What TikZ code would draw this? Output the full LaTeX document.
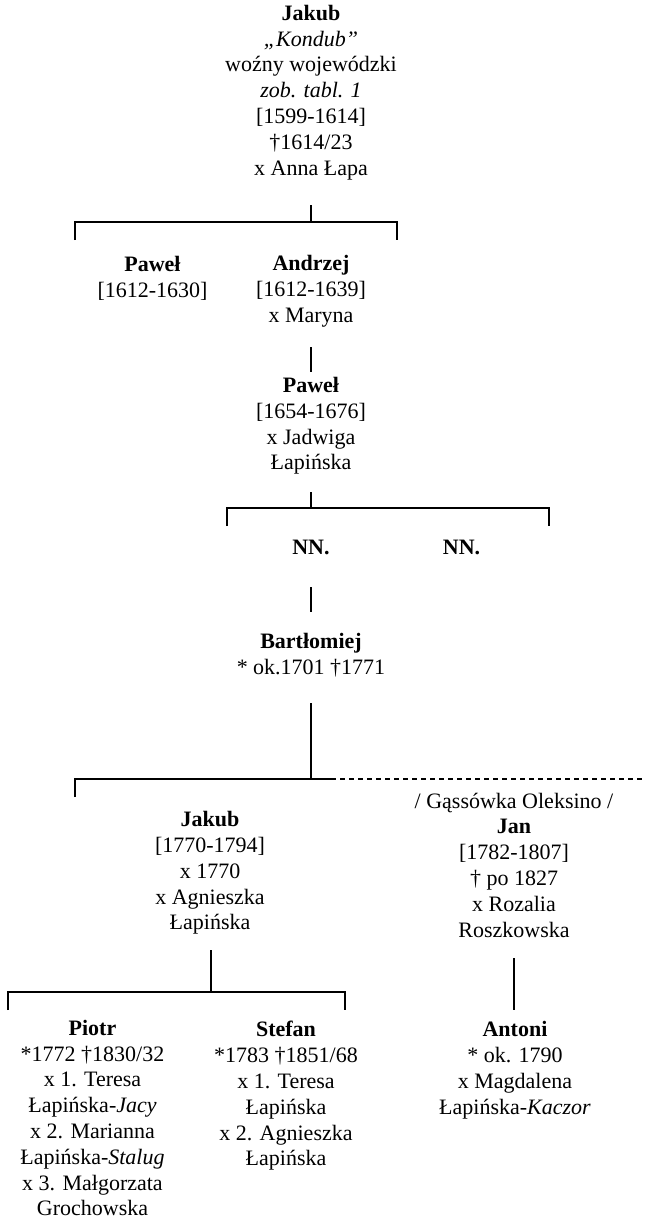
\documentclass[tikz,border=0pt]{standalone}
\usepackage{fontspec}
\setmainfont{Liberation Serif}
\begin{document}
\begin{tikzpicture}[x=0.5pt, y=-0.5pt, font=\fontsize{11}{12.9}\selectfont,
  person/.style={align=center, inner sep=0pt},
  line/.style={line width=0.6pt},
  link/.style={line width=0.6pt, dash pattern=on 2.5pt off 2pt},
]
\useasboundingbox (0,0) rectangle (646,1221);

% ---------------------------------------------------------------- Jakub and sons
\node[person] (jakub1) at (311,92.5) {\textbf{Jakub}\\\textit{„Kondub”}\\woźny wojewódzki\\\textit{zob. tabl. 1}\\{[1599-1614]}\\†1614/23\\x Anna Łapa};
\node[person] (pawel1) at (152.5,278.5) {\textbf{Paweł}\\{[1612-1630]}};
\node[person] (andrzej) at (311,291) {\textbf{Andrzej}\\{[1612-1639]}\\x Maryna};
\coordinate (j1up) at (311,205);
\coordinate (j1bar) at (311,222);
\coordinate (j1l) at (75,222);  \coordinate (j1ld) at (75,240);
\coordinate (j1r) at (397,222); \coordinate (j1rd) at (397,240);
\draw[line] (j1up) -- (j1bar);
\draw[line] (j1ld) -- (j1l) -- (j1r) -- (j1rd);

% ---------------------------------------------------------------- Paweł
\node[person] (pawel2) at (311,426) {\textbf{Paweł}\\{[1654-1676]}\\x Jadwiga\\Łapińska};
\coordinate (a1up) at (311,347);
\coordinate (a1dn) at (311,372);
\draw[line] (a1up) -- (a1dn);

% ---------------------------------------------------------------- NN.
\node[person] (nn1) at (311,547) {\textbf{NN.}};
\node[person] (nn2) at (461.5,547) {\textbf{NN.}};
\coordinate (p2up) at (311,492);
\coordinate (p2bar) at (311,508);
\coordinate (p2l) at (227,508); \coordinate (p2ld) at (227,526);
\coordinate (p2r) at (549,508); \coordinate (p2rd) at (549,526);
\draw[line] (p2up) -- (p2bar);
\draw[line] (p2ld) -- (p2l) -- (p2r) -- (p2rd);

% ---------------------------------------------------------------- Bartłomiej
\node[person] (bart) at (311,655) {\textbf{Bartłomiej}\\* ok.1701 †1771};
\coordinate (n1up) at (311,587);
\coordinate (n1dn) at (311,612);
\draw[line] (n1up) -- (n1dn);

% ---------------------------------------------------------------- Jakub, Jan
\node[person] (jakub2) at (210,873) {\textbf{Jakub}\\{[1770-1794]}\\x 1770\\x Agnieszka\\Łapińska};
\node[person] (jan) at (514,865) {/ Gąssówka Oleksino /\\\textbf{Jan}\\{[1782-1807]}\\† po 1827\\x Rozalia\\Roszkowska};
\coordinate (bup) at (311,703);
\coordinate (bbar) at (311,779);
\coordinate (bl) at (75,779); \coordinate (bld) at (75,797);
\coordinate (bmid) at (331,779);
\coordinate (bend) at (646,779);
\draw[line] (bup) -- (bbar);
\draw[line] (bld) -- (bl) -- (bmid);
\draw[link] (bmid) -- (bend);

% ---------------------------------------------------------------- grandsons
\node[person] (piotr) at (92.5,1118) {\textbf{Piotr}\\*1772 †1830/32\\x 1. Teresa\\Łapińska-\textit{Jacy}\\x 2. Marianna\\Łapińska-\textit{Stalug}\\x 3. Małgorzata\\Grochowska};
\node[person] (stefan) at (286,1096) {\textbf{Stefan}\\*1783 †1851/68\\x 1. Teresa\\Łapińska\\x 2. Agnieszka\\Łapińska};
\node[person] (antoni) at (515,1070) {\textbf{Antoni}\\* ok. 1790\\x Magdalena\\Łapińska-\textit{Kaczor}};
\coordinate (j2up) at (211,950);
\coordinate (j2bar) at (211,992);
\coordinate (j2l) at (8,992);   \coordinate (j2ld) at (8,1010);
\coordinate (j2r) at (345,992); \coordinate (j2rd) at (345,1010);
\draw[line] (j2up) -- (j2bar);
\draw[line] (j2ld) -- (j2l) -- (j2r) -- (j2rd);
\coordinate (jnup) at (514,958);
\coordinate (jndn) at (514,1010);
\draw[line] (jnup) -- (jndn);
\end{tikzpicture}
\end{document}
